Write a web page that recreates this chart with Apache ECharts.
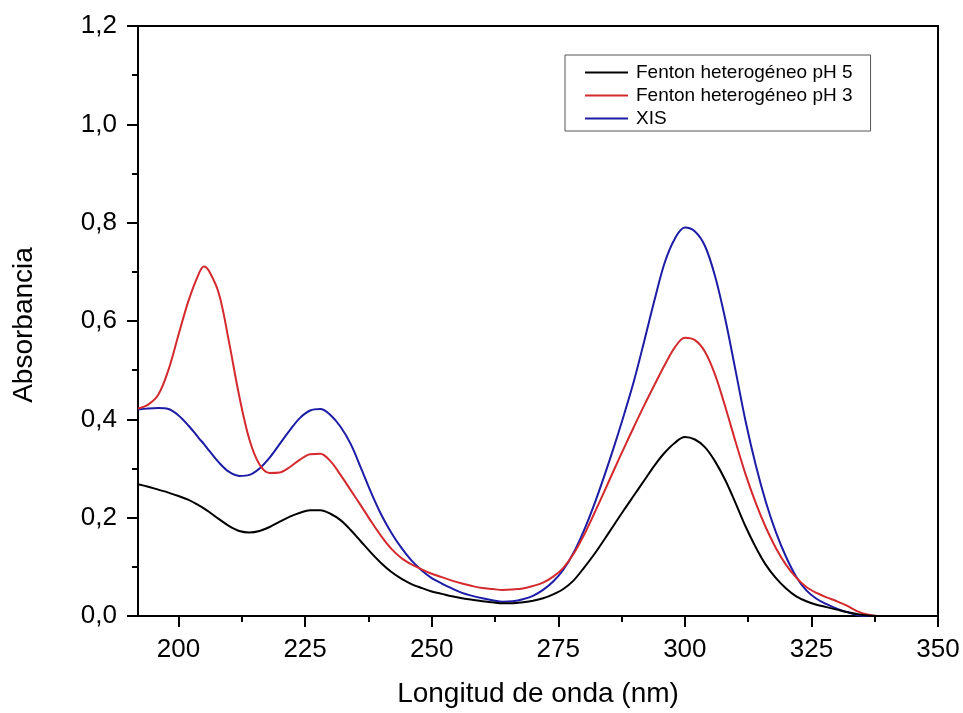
<!DOCTYPE html>
<html>
<head>
<meta charset="utf-8">
<script src="https://cdn.jsdelivr.net/npm/echarts@6/dist/echarts.min.js"></script>
<style>
html,body{margin:0;padding:0;background:#fff;}
#chart{width:963px;height:713px;}
</style>
</head>
<body>
<div id="chart"></div>
<script>
var wavelengths = [
  192,194,196,198,200,202,204,205,206,208,210,
  212,214,216,218,220,222,224,226,228,230,
  232,234,236,238,240,242,244,246,248,250,
  252,254,256,258,260,262,264,266,268,270,
  272,274,276,278,280,282,284,286,288,290,
  292,294,296,298,300,302,304,306,308,310,
  312,314,316,318,320,322,324,326,328,330,
  332,334,336,338,340,345,350];

var fentonPH5 = [
  0.268,0.263,0.257,0.251,0.244,0.236,0.225,0.219,0.212,0.197,0.183,
  0.173,0.170,0.173,0.181,0.192,0.202,0.210,0.215,0.215,0.208,
  0.195,0.175,0.152,0.129,0.108,0.090,0.076,0.065,0.057,0.050,
  0.045,0.040,0.036,0.033,0.030,0.028,0.026,0.026,0.028,0.031,
  0.036,0.044,0.055,0.072,0.097,0.124,0.154,0.185,0.216,0.246,
  0.276,0.306,0.332,0.352,0.364,0.359,0.343,0.314,0.276,0.230,
  0.182,0.140,0.104,0.077,0.056,0.040,0.030,0.023,0.018,0.013,
  0.008,0.004,0.001,0,0,0,0];

var fentonPH3 = [
  0.422,0.430,0.450,0.500,0.572,0.642,0.696,0.711,0.702,0.655,0.556,
  0.447,0.359,0.308,0.291,0.292,0.303,0.318,0.329,0.330,0.315,
  0.287,0.256,0.225,0.193,0.163,0.137,0.118,0.105,0.095,0.086,
  0.079,0.072,0.066,0.061,0.057,0.055,0.053,0.054,0.056,0.061,
  0.068,0.080,0.098,0.126,0.163,0.206,0.251,0.297,0.342,0.386,
  0.429,0.470,0.510,0.546,0.566,0.561,0.537,0.490,0.425,0.355,
  0.288,0.230,0.180,0.138,0.104,0.078,0.059,0.047,0.038,0.030,
  0.021,0.010,0.003,0,0,0,0];

var xis = [
  0.420,0.422,0.423,0.421,0.408,0.387,0.362,0.350,0.337,0.312,0.293,
  0.285,0.287,0.300,0.322,0.350,0.378,0.403,0.418,0.421,0.409,
  0.385,0.350,0.302,0.252,0.207,0.170,0.139,0.113,0.093,0.077,
  0.066,0.056,0.047,0.041,0.036,0.032,0.029,0.030,0.034,0.041,
  0.053,0.070,0.094,0.128,0.172,0.224,0.282,0.344,0.410,0.480,
  0.560,0.642,0.718,0.767,0.790,0.782,0.752,0.690,0.603,0.500,
  0.396,0.307,0.232,0.170,0.120,0.080,0.052,0.035,0.024,0.015,
  0.008,0.002,0,0,0,0,0];

var seriesNames = ['Fenton heterogéneo pH 5','Fenton heterogéneo pH 3','XIS'];
var seriesColors = ['#000000','#d42a2e','#1c1ca6'];

var xMajorTicks = [200,225,250,275,300,325,350];
var xMinorTicks = [212.5,237.5,262.5,287.5,312.5,337.5];

function zip(ys){ return wavelengths.map(function(x,i){ return [x, ys[i]]; }); }
var allValues = [fentonPH5, fentonPH3, xis];

var FONT = '"Liberation Sans", Arial, sans-serif';
var chart = echarts.init(document.getElementById('chart'));
var option = {
  backgroundColor: '#ffffff',
  animation: false,
  grid: {left:138, top:26, right:25, bottom:96, show:true, borderColor:'#000', borderWidth:2, backgroundColor:'transparent'},
  legend: {
    orient:'vertical', left:565, top:55,
    data: seriesNames,
    icon:'rect', itemWidth:43, itemHeight:2,
    itemGap:2,
    padding:[7,18,2,20],
    borderColor:'#555', borderWidth:1,
    textStyle:{fontFamily:FONT, fontSize:19, color:'#000', lineHeight:21, padding:[0,0,0,3]}
  },
  xAxis: [{
    type:'value', min:192, max:350, position:'bottom',
    name:'Longitud de onda (nm)', nameLocation:'middle', nameGap:64,
    nameTextStyle:{fontFamily:FONT, fontSize:28, color:'#000'},
    axisLine:{show:true, lineStyle:{color:'#000', width:2}},
    axisTick:{show:true, inside:false, length:11, customValues:xMajorTicks, lineStyle:{color:'#000', width:2}},
    axisLabel:{customValues:xMajorTicks, fontFamily:FONT, fontSize:26, color:'#000', margin:21},
    splitLine:{show:false}
  },{
    type:'value', min:192, max:350, position:'bottom',
    axisLine:{show:false},
    axisTick:{show:true, inside:false, length:6, customValues:xMinorTicks, lineStyle:{color:'#000', width:2}},
    axisLabel:{show:false},
    splitLine:{show:false}
  }],
  yAxis: {
    type:'value', min:0, max:1.2, interval:0.2,
    name:'Absorbancia', nameLocation:'middle', nameGap:100, nameRotate:90,
    nameTextStyle:{fontFamily:FONT, fontSize:28, color:'#000', padding:[0,8,0,0]},
    axisLine:{show:true, lineStyle:{color:'#000', width:2}},
    axisTick:{show:true, inside:false, length:11, lineStyle:{color:'#000', width:2}},
    minorTick:{show:true, splitNumber:2, length:6, lineStyle:{color:'#000', width:2}},
    axisLabel:{fontFamily:FONT, fontSize:26, color:'#000', margin:21,
      formatter:function(v){ return v.toFixed(1).replace('.', ','); }},
    splitLine:{show:false}
  },
  series: seriesNames.map(function(n,i){
    return {
      name:n, type:'line', xAxisIndex:0, data:zip(allValues[i]),
      showSymbol:false, symbol:'none', smooth:0.35,
      lineStyle:{color:seriesColors[i], width:2},
      itemStyle:{color:seriesColors[i]},
      z: 3 + (2 - i)
    };
  })
};
chart.setOption(option);
</script>
</body>
</html>
